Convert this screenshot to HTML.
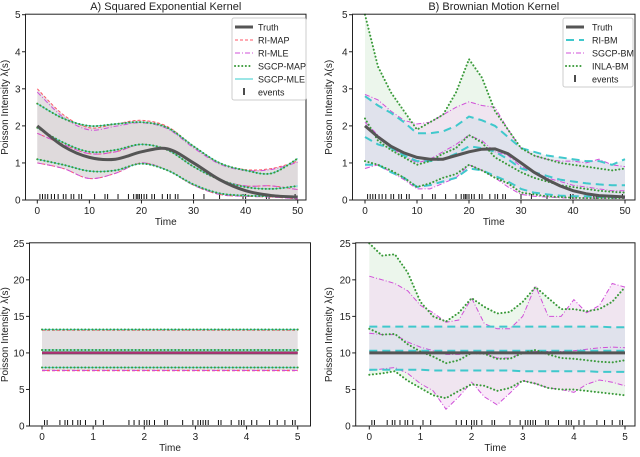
<!DOCTYPE html>
<html><head><meta charset="utf-8"><style>
body{margin:0;background:#fff;width:640px;height:452px;overflow:hidden}
svg text{font-family:"Liberation Sans","DejaVu Sans",sans-serif;fill:#222}
</style></head><body>
<svg id="c" width="640" height="452"></svg>
<script>
// ---- data ----
const xA=[0,5,10,15,20,25,30,35,40,45,50];
const truthA=[2.0,1.45,1.15,1.1,1.3,1.38,1.0,0.55,0.25,0.12,0.08];
const sgcpMeanA=[1.95,1.55,1.3,1.35,1.5,1.35,0.9,0.55,0.35,0.3,0.38];
const sgcpUpA=[2.6,2.2,2.0,2.05,2.1,1.95,1.45,1.0,0.8,0.72,1.12];
const sgcpLoA=[1.1,0.95,0.78,0.8,0.98,0.8,0.42,0.18,0.12,0.1,0.08];
const riMeanA=[1.8,1.5,1.25,1.3,1.5,1.35,0.9,0.55,0.38,0.38,0.28];
const riUpA=[3.0,2.3,1.95,2.05,2.15,1.98,1.45,1.0,0.82,0.85,1.05];
const riLoA=[1.0,0.85,0.58,0.72,1.0,0.8,0.4,0.15,0.1,0.08,0.03];
const xB=[0,2.5,5,7.5,10,12.5,15,17.5,20,22.5,25,27.5,30,32.5,35,37.5,40,42.5,45,47.5,50];
const truthB=[2.0,1.7,1.45,1.27,1.15,1.1,1.1,1.2,1.3,1.37,1.38,1.25,1.0,0.75,0.55,0.38,0.25,0.17,0.12,0.1,0.08];
const inlaUpB=[5.0,3.6,2.9,2.4,1.9,2.1,2.3,2.9,3.8,3.3,2.4,1.9,1.4,1.2,1.1,1.0,0.95,0.9,0.85,0.8,0.85];
const inlaMeanB=[2.2,1.6,1.35,1.15,0.95,1.05,1.25,1.4,1.75,1.55,1.15,0.95,0.75,0.6,0.5,0.4,0.35,0.3,0.25,0.22,0.2];
const inlaLoB=[1.05,0.95,0.8,0.6,0.35,0.45,0.6,0.7,0.95,0.8,0.6,0.45,0.2,0.15,0.1,0.08,0.06,0.05,0.05,0.05,0.05];
const sgcpUpB=[2.85,2.7,2.4,2.15,2.05,2.1,2.3,2.5,2.65,2.55,2.5,1.9,1.4,1.2,1.1,1.05,1.05,1.0,1.1,0.95,0.9];
const sgcpMeanB=[2.1,1.75,1.4,1.2,1.0,1.1,1.3,1.5,1.75,1.6,1.3,1.2,0.9,0.75,0.6,0.5,0.4,0.35,0.3,0.25,0.25];
const sgcpLoB=[0.85,0.95,0.75,0.55,0.3,0.3,0.45,0.6,0.95,0.8,0.6,0.35,0.15,0.1,0.08,0.06,0.05,0.05,0.05,0.04,0.04];
const riUpB=[2.8,2.55,2.35,2.1,1.8,1.8,1.85,2.0,2.25,2.15,2.0,1.7,1.4,1.3,1.2,1.15,1.1,1.05,1.05,0.95,1.1];
const riMeanB=[1.7,1.5,1.4,1.2,1.05,1.05,1.1,1.25,1.45,1.4,1.3,1.1,0.85,0.75,0.65,0.55,0.5,0.45,0.42,0.4,0.4];
const riLoB=[0.95,0.95,0.75,0.6,0.35,0.4,0.5,0.6,0.85,0.8,0.65,0.5,0.3,0.2,0.15,0.12,0.1,0.1,0.08,0.07,0.07];
const xC=[0,5];
const truthC=[10,10];
const sgcpUpC=[13.2,13.2],sgcpMeanC=[10.4,10.4],sgcpLoC=[8.0,8.0];
const riUpC=[13.1,13.1],riMeanC=[10.0,10.0],riLoC=[7.6,7.6];
const xD=[0,0.25,0.5,0.75,1,1.25,1.5,1.75,2,2.25,2.5,2.75,3,3.25,3.5,3.75,4,4.25,4.5,4.75,5];
const truthD=[10,10,10,10,10,10,10,10,10,10,10,10,10,10,10,10,10,10,10,10,10];
const inlaUpD=[25,23.3,23.5,21,17,15,14.3,15.5,17.5,16.3,15.4,15.6,17,19,17.5,16,16,15.7,16,17,19];
const inlaMeanD=[13.3,12.5,12.6,11.2,10.2,9.5,8.6,9.0,10.0,9.9,9.2,9.2,10,10.4,9.8,9.3,9.2,9.0,8.8,8.7,9.0];
const inlaLoD=[7.0,7.2,7.5,6.2,5.2,4.2,3.8,4.8,5.7,5.5,4.8,5.2,6.2,5.8,5.2,5.0,5.0,4.8,4.6,4.4,4.2];
const sgcpUpD=[20.5,20,19.5,18.5,16.5,15.5,14.2,14.5,17.5,14,13.3,13.3,15,19.2,15,15,17.3,15.5,16.5,19.5,19];
const sgcpMeanD=[12.7,12.5,12.5,11.5,10.8,10.3,9.8,9.8,10,10,9.3,9.3,10,10.2,10.2,10.2,10.3,10.5,10.7,10.8,10.7];
const sgcpLoD=[7.6,7.8,8.0,7.2,5.8,4.8,2.3,4.0,6.0,4.0,2.9,4.5,6.2,5.8,5.2,5.0,4.6,5.7,6.3,6.0,5.5];
const riUpD=[13.6,13.6,13.6,13.6,13.6,13.6,13.6,13.6,13.6,13.6,13.6,13.6,13.6,13.6,13.6,13.6,13.6,13.6,13.6,13.5,13.5];
const riMeanD=[10.3,10.3,10.3,10.3,10.3,10.3,10.3,10.3,10.3,10.3,10.3,10.3,10.3,10.3,10.3,10.3,10.3,10.3,10.3,10.3,10.3];
const riLoD=[7.7,7.7,7.7,7.7,7.7,7.6,7.6,7.6,7.6,7.6,7.6,7.6,7.5,7.5,7.5,7.5,7.5,7.5,7.4,7.4,7.4];
const eventsTop=[0.5,1,1.5,2,2.7,3.3,4,5,5.5,6.5,7,8,8.5,11,13,13.5,15.5,17.5,18.5,19,19.3,19.6,20,20.5,21,22,22.5,24,25,25.5,26.5,27,30,32,35,39.5,40,44,44.5,49.5];
const eventsBot=[0.05,0.1,0.35,0.45,0.5,0.6,0.7,0.75,0.85,1.05,1.2,1.7,1.8,1.9,2.0,2.05,2.1,2.2,2.4,2.45,2.75,2.95,3.05,3.1,3.15,3.2,3.25,3.45,3.5,3.7,3.85,3.9,3.95,4.1,4.2,4.45,4.6,4.75,4.9,4.95];
const ticksTopX=[0,10,20,30,40,50],ticksTopY=[0,1,2,3,4,5];
const ticksBotX=[0,1,2,3,4,5],ticksBotY=[0,5,10,15,20,25];

const NS="http://www.w3.org/2000/svg";
const svg=document.getElementById('c');
function mk(tag,attrs,parent){const e=document.createElementNS(NS,tag);for(const k in attrs)e.setAttribute(k,attrs[k]);(parent||svg).appendChild(e);return e;}

function panel(P){
  const g=mk('g',{});
  
  
  const sx=v=>P.x0+(v-P.xmin)/(P.xmax-P.xmin)*(P.x1-P.x0);
  const sy=v=>P.y0-(v-P.ymin)/(P.ymax-P.ymin)*(P.y0-P.y1);
  const pts=(xs,ys)=>xs.map((x,i)=>[sx(x),sy(ys[i])]);
  function pathD(p,smooth){
    if(!smooth||p.length<3)return 'M'+p.map(q=>q[0].toFixed(1)+','+q[1].toFixed(1)).join('L');
    let d='M'+p[0][0]+','+p[0][1];
    for(let i=0;i<p.length-1;i++){const a=p[i-1]||p[i],b=p[i],c=p[i+1],e=p[i+2]||c;
      d+='C'+(b[0]+(c[0]-a[0])/6)+','+(b[1]+(c[1]-a[1])/6)+' '+(c[0]-(e[0]-b[0])/6)+','+(c[1]-(e[1]-b[1])/6)+' '+c[0]+','+c[1];}
    return d;}
  P.fills.forEach(f=>{
    const up=pts(P.xs,f.up),lo=pts(P.xs,f.lo).reverse();
    const d=pathD(up,P.smooth)+'L'+pathD(lo,P.smooth).slice(1)+'Z';
    const el=mk('path',{d:d,fill:f.color,'fill-opacity':f.op,stroke:'none'},g);
    
    
  });
  (P.events).forEach(ev=>{
    const el=mk('line',{x1:sx(ev),x2:sx(ev),y1:P.y0-1,y2:P.y0-6,stroke:'#111','stroke-width':1},g);
    
    
  });
  P.lines.forEach(L=>{
    const el=mk('path',{d:pathD(pts(P.xs,L.ys),P.smooth),fill:'none',stroke:L.color,'stroke-width':L.w,'stroke-dasharray':L.dash||'none','stroke-linecap':L.cap||'butt'},g);
    
    
  });
  const fr=mk('rect',{x:P.fx0,y:P.y1-0.5,width:P.fx1-P.fx0,height:P.y0-P.y1+0.5,fill:'none',stroke:'#222','stroke-width':1},g);
  
  
  P.tx.forEach(t=>{
    mk('line',{x1:sx(t),x2:sx(t),y1:P.y0,y2:P.y0+3.5,stroke:'#222'},g);
    const tl=mk('text',{x:sx(t),y:P.y0+14,'font-size':10,'text-anchor':'middle'},g);tl.textContent=t;
    
    
  });
  P.ty.forEach(t=>{
    mk('line',{x1:P.fx0,x2:P.fx0-3.5,y1:sy(t),y2:sy(t),stroke:'#222'},g);
    const tl=mk('text',{x:P.fx0-5,y:sy(t)+3.5,'font-size':10,'text-anchor':'end'},g);tl.textContent=t;
    
    
  });
  const xt=mk('text',{x:(P.fx0+P.fx1)/2,y:P.y0+25,'font-size':10,'text-anchor':'middle'},g);xt.textContent='Time';
  
  
  const yc=(P.y0+P.y1)/2;
  const yt=mk('text',{x:P.ylx,y:yc,'font-size':10,'text-anchor':'middle',transform:`rotate(-90 ${P.ylx} ${yc})`},g);yt.textContent='Poisson Intensity λ(s)';
  
  
  if(P.title){const tt=mk('text',{x:(P.fx0+P.fx1)/2,y:10,'font-size':11,'text-anchor':'middle'},g);tt.textContent=P.title;
    
    }
  if(P.legend){const Lg=P.legend;
    const lg=mk('g',{},g);
    
    
    mk('rect',{x:Lg.x,y:Lg.y,width:Lg.w,height:Lg.items.length*13+4,rx:2,fill:'#fff','fill-opacity':0.85,stroke:'#ccc'},lg);
    Lg.items.forEach((it,i)=>{const yy=Lg.y+9+i*13;
      if(it.ev)mk('line',{x1:Lg.x+12,x2:Lg.x+12,y1:yy-4,y2:yy+3,stroke:'#111','stroke-width':1.5},lg);
      else mk('line',{x1:Lg.x+3,x2:Lg.x+21,y1:yy,y2:yy,stroke:it.color,'stroke-width':it.w,'stroke-dasharray':it.dash||'none','stroke-linecap':it.cap||'butt'},lg);
      const t=mk('text',{x:Lg.x+Lg.tx,y:yy+3.5,'font-size':9},lg);t.textContent=it.label;
      
      });
  }
}
const TR={color:'#555',w:3};
const cRImap='#ff5566',cRImle='#d050d8',cSG='#3a9a3a',cSGmle='#5fd8d8',cRIbm='#40c8cc';
panel({name:'panel-a',xs:xA,smooth:true,xmin:0,xmax:50,ymin:0,ymax:5,x0:37.3,x1:297.7,fx0:25.5,fx1:306,y0:200,y1:14.7,
 tx:ticksTopX,ty:ticksTopY,ylx:8,title:'A) Squared Exponential Kernel',events:eventsTop,
 fills:[{name:'ri-band',up:riUpA,lo:riLoA,color:'#d9d3d6',op:0.7},{name:'sgcp-band',up:sgcpUpA,lo:sgcpLoA,color:'#d9d3d6',op:0.5}],
 lines:[
  {name:'ri-map-upper',ys:riUpA,color:cRImap,w:1,dash:'3,2'},{name:'ri-map-mean',ys:riMeanA,color:cRImap,w:1,dash:'3,2'},{name:'ri-map-lower',ys:riLoA,color:cRImap,w:1,dash:'3,2'},
  {name:'ri-mle-upper',ys:riUpA.map(v=>v*0.97),color:cRImle,w:1,dash:'5,2,1,2'},{name:'ri-mle-mean',ys:riMeanA,color:cRImle,w:1,dash:'5,2,1,2'},{name:'ri-mle-lower',ys:riLoA,color:cRImle,w:1,dash:'5,2,1,2'},
  {name:'sgcp-mle-upper',ys:sgcpUpA,color:cSGmle,w:1.2},{name:'sgcp-mle-mean',ys:sgcpMeanA,color:cSGmle,w:1.2},{name:'sgcp-mle-lower',ys:sgcpLoA,color:cSGmle,w:1.2},
  {name:'sgcp-map-upper',ys:sgcpUpA,color:cSG,w:2,dash:'0.1,3.5',cap:'round'},{name:'sgcp-map-mean',ys:sgcpMeanA,color:cSG,w:2,dash:'0.1,3.5',cap:'round'},{name:'sgcp-map-lower',ys:sgcpLoA,color:cSG,w:2,dash:'0.1,3.5',cap:'round'},
  {name:'truth-line',ys:truthA,color:TR.color,w:TR.w}],
 legend:{x:232,y:18,w:74,tx:26,items:[{label:'Truth',color:'#555',w:3},{label:'RI-MAP',color:cRImap,w:1,dash:'3,2'},{label:'RI-MLE',color:cRImle,w:1,dash:'5,2,1,2'},{label:'SGCP-MAP',color:cSG,w:2,dash:'0.1,3.5',cap:'round'},{label:'SGCP-MLE',color:cSGmle,w:1.2},{label:'events',ev:true}]}
});
panel({name:'panel-b',xs:xB,smooth:false,xmin:0,xmax:50,ymin:0,ymax:5,x0:365,x1:625,fx0:352.5,fx1:635,y0:200,y1:14.7,
 tx:ticksTopX,ty:ticksTopY,ylx:332,title:'B) Brownian Motion Kernel',events:eventsTop,
 fills:[{name:'inla-band',up:inlaUpB,lo:inlaLoB,color:'#cfe8cf',op:0.4},{name:'sgcp-band',up:sgcpUpB,lo:sgcpLoB,color:'#f3d4f3',op:0.5},{name:'ri-band',up:riUpB,lo:riLoB,color:'#cfe0e8',op:0.5}],
 lines:[
  {name:'sgcp-bm-upper',ys:sgcpUpB,color:cRImle,w:1,dash:'5,2,1,2'},{name:'sgcp-bm-mean',ys:sgcpMeanB,color:cRImle,w:1,dash:'5,2,1,2'},{name:'sgcp-bm-lower',ys:sgcpLoB,color:cRImle,w:1,dash:'5,2,1,2'},
  {name:'ri-bm-upper',ys:riUpB,color:cRIbm,w:2,dash:'8,5'},{name:'ri-bm-mean',ys:riMeanB,color:cRIbm,w:2,dash:'8,5'},{name:'ri-bm-lower',ys:riLoB,color:cRIbm,w:2,dash:'8,5'},
  {name:'inla-bm-upper',ys:inlaUpB,color:cSG,w:2,dash:'0.1,3.5',cap:'round'},{name:'inla-bm-mean',ys:inlaMeanB,color:cSG,w:2,dash:'0.1,3.5',cap:'round'},{name:'inla-bm-lower',ys:inlaLoB,color:cSG,w:2,dash:'0.1,3.5',cap:'round'},
  {name:'truth-line',ys:truthB,color:TR.color,w:TR.w}],
 legend:{x:563,y:18,w:70,tx:29,items:[{label:'Truth',color:'#555',w:3},{label:'RI-BM',color:cRIbm,w:2,dash:'8,5'},{label:'SGCP-BM',color:cRImle,w:1,dash:'5,2,1,2'},{label:'INLA-BM',color:cSG,w:2,dash:'0.1,3.5',cap:'round'},{label:'events',ev:true}]}
});
panel({name:'panel-c',xs:xC,smooth:false,xmin:0,xmax:5,ymin:0,ymax:25,x0:42,x1:297.7,fx0:29.5,fx1:310.5,y0:426,y1:243.3,
 tx:ticksBotX,ty:ticksBotY,ylx:8,events:eventsBot,
 fills:[{name:'band',up:sgcpUpC,lo:riLoC,color:'#d9d3d6',op:0.7}],
 lines:[
  {name:'ri-map-upper',ys:riUpC,color:cRImap,w:1,dash:'3,2'},{name:'ri-map-lower',ys:riLoC,color:cRImap,w:1.5,dash:'3,2'},
  {name:'ri-mle-lower',ys:riLoC,color:cRImle,w:1,dash:'5,2,1,2'},
  {name:'sgcp-mle-upper',ys:sgcpUpC,color:cSGmle,w:1.2},{name:'sgcp-mle-mean',ys:sgcpMeanC,color:cSGmle,w:1.2},{name:'sgcp-mle-lower',ys:sgcpLoC,color:cSGmle,w:1.2},
  {name:'sgcp-map-upper',ys:sgcpUpC,color:cSG,w:2,dash:'0.1,3.5',cap:'round'},{name:'sgcp-map-mean',ys:sgcpMeanC,color:cSG,w:2,dash:'0.1,3.5',cap:'round'},{name:'sgcp-map-lower',ys:sgcpLoC,color:cSG,w:2,dash:'0.1,3.5',cap:'round'},
  {name:'truth-line',ys:truthC,color:TR.color,w:TR.w},{name:'ri-mean',ys:riMeanC,color:'#c0287a',w:1.5}]
});
panel({name:'panel-d',xs:xD,smooth:false,xmin:0,xmax:5,ymin:0,ymax:25,x0:369.3,x1:625,fx0:355.7,fx1:635,y0:426,y1:243.3,
 tx:ticksBotX,ty:ticksBotY,ylx:332,events:eventsBot,
 fills:[{name:'inla-band',up:inlaUpD,lo:inlaLoD,color:'#cfe8cf',op:0.4},{name:'sgcp-band',up:sgcpUpD,lo:sgcpLoD,color:'#f3d4f3',op:0.5},{name:'ri-band',up:riUpD,lo:riLoD,color:'#cfe0e8',op:0.5}],
 lines:[
  {name:'sgcp-bm-upper',ys:sgcpUpD,color:cRImle,w:1,dash:'5,2,1,2'},{name:'sgcp-bm-mean',ys:sgcpMeanD,color:cRImle,w:1,dash:'5,2,1,2'},{name:'sgcp-bm-lower',ys:sgcpLoD,color:cRImle,w:1,dash:'5,2,1,2'},
  {name:'ri-bm-upper',ys:riUpD,color:cRIbm,w:2,dash:'8,5'},{name:'ri-bm-mean',ys:riMeanD,color:cRIbm,w:2,dash:'8,5'},{name:'ri-bm-lower',ys:riLoD,color:cRIbm,w:2,dash:'8,5'},
  {name:'inla-bm-upper',ys:inlaUpD,color:cSG,w:2,dash:'0.1,3.5',cap:'round'},{name:'inla-bm-mean',ys:inlaMeanD,color:cSG,w:2,dash:'0.1,3.5',cap:'round'},{name:'inla-bm-lower',ys:inlaLoD,color:cSG,w:2,dash:'0.1,3.5',cap:'round'},
  {name:'truth-line',ys:truthD,color:TR.color,w:TR.w}]
});
</script>
</body></html>
